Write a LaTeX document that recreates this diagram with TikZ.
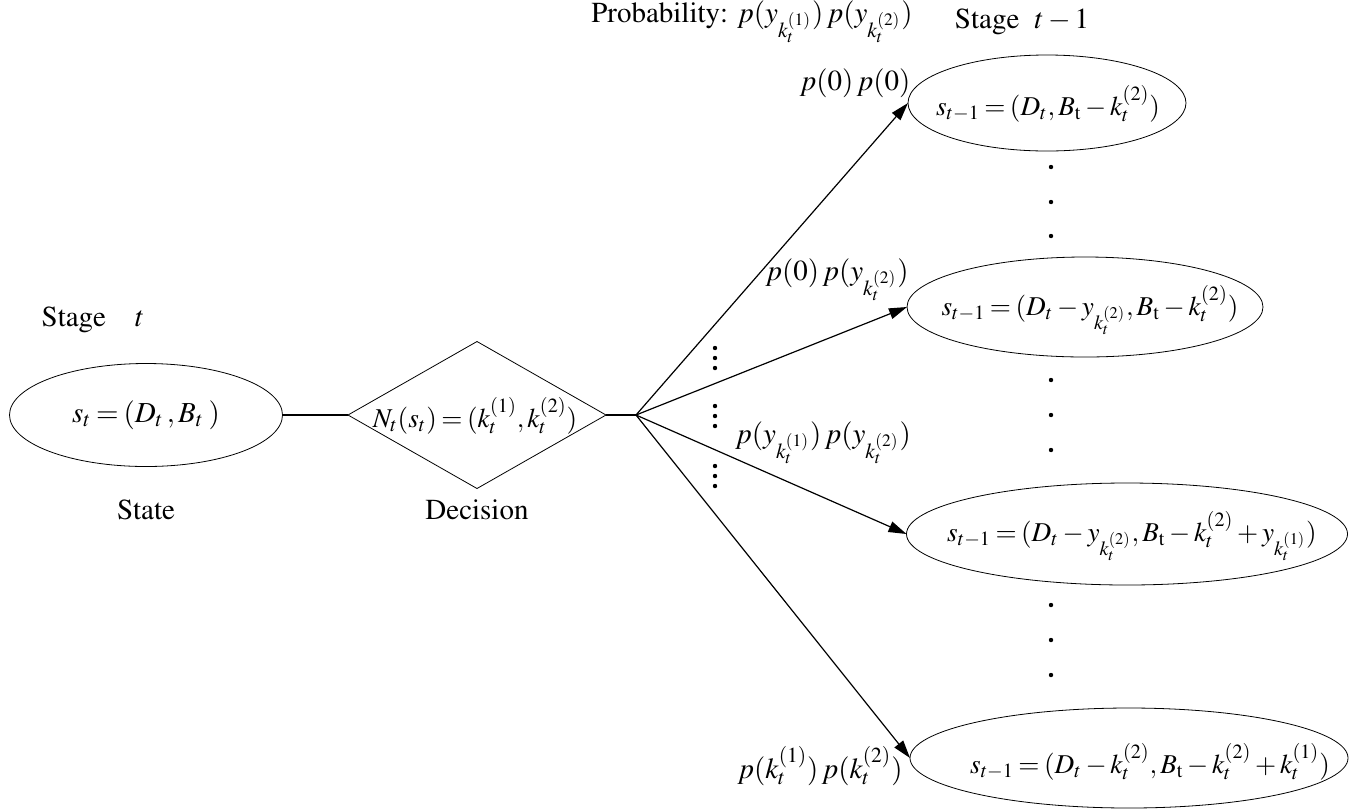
\documentclass[tikz,border=0pt]{standalone}
\usepackage[T1]{fontenc}
\usepackage{mathptmx}
\usetikzlibrary{shapes.geometric,arrows.meta}
\newcommand\tightmathsp{\thickmuskip=3mu plus 1mu\relax\medmuskip=2.5mu plus 1mu\relax}
\tikzset{
  lbl/.style={inner sep=0pt, font=\rmfamily\fontsize{14.5}{17}\selectfont\tightmathsp},
  elltxt/.style={inner sep=0pt, font=\rmfamily\fontsize{13.6}{16}\selectfont\tightmathsp},
  stateell/.style={ellipse, draw, inner sep=0pt, outer sep=0pt},
  decdia/.style={diamond, draw, inner sep=0pt, outer sep=0pt},
  conn/.style={line width=0.6pt},
  arr/.style={line width=0.6pt, -{Triangle[length=9pt,width=5.5pt]}},
  dotmark/.style={fill=black}
}
\begin{document}
\begin{tikzpicture}[x=0.5pt,y=-0.5pt]
\useasboundingbox (0,0) rectangle (1359,810);
% shapes
\node[stateell, minimum width=136.5pt, minimum height=51.5pt] (e0) at (146,415) {};
\node[decdia, minimum width=129pt, minimum height=73.5pt] (dec) at (477,415) {};
\node[stateell, minimum width=139pt, minimum height=48pt] (e1) at (1047,103) {};
\node[stateell, minimum width=178pt, minimum height=50pt] (e2) at (1085,307) {};
\node[stateell, minimum width=220.5pt, minimum height=51pt] (e3) at (1127,534) {};
\node[stateell, minimum width=219pt, minimum height=50pt] (e4) at (1129,758) {};
\coordinate (fan) at (636,415);
% texts
\node[lbl] (t0) at (146,415) {$s_t = (D_t\,, B_t\;)$};
\node[elltxt] (tdec) at (475,416) {$N_t(s_t) = (k_t^{(1)}, k_t^{(2)})$};
\node[elltxt] (t1) at (1048,104) {$s_{t-1} = (D_t, B_\mathrm{t} - k_t^{(2)})$};
\node[elltxt] (t2) at (1090,310) {$s_{t-1} = (D_t - y_{k_t^{(2)}}, B_\mathrm{t} - k_t^{(2)})$};
\node[elltxt] (t3) at (1132,536) {$s_{t-1} = (D_t - y_{k_t^{(2)}}, B_\mathrm{t} - k_t^{(2)} + y_{k_t^{(1)}})$};
\node[elltxt] (t4) at (1150,762) {$s_{t-1} = (D_t - k_t^{(2)}, B_\mathrm{t} - k_t^{(2)} + k_t^{(1)})$};
\node[lbl] (stage) at (93,320) {Stage\quad $t$};
\node[lbl] (state) at (146,510) {State};
\node[lbl] (decis) at (477,510) {Decision};
\node[lbl] (prob) at (752,22) {Probability: $p(y_{k_t^{(1)}})\,p(y_{k_t^{(2)}})$};
\node[lbl] (stage1) at (1022,22) {Stage\; $t-1$};
\node[lbl] (p1) at (855,83) {$p(0)\,p(0)$};
\node[lbl] (p2) at (837,280) {$p(0)\,p(y_{k_t^{(2)}})$};
\node[lbl] (p3) at (823,443) {$p(y_{k_t^{(1)}})\,p(y_{k_t^{(2)}})$};
\node[lbl] (p4) at (820,766) {$p(k_t^{(1)})\,p(k_t^{(2)})$};
% connectors
\draw[conn] (e0.east) -- (dec.west);
\draw[conn] (dec.east) -- (fan);
\draw[arr] (fan) -- (e1.west);
\draw[arr] (fan) -- (e2.west);
\draw[arr] (fan) -- (e3.west);
\draw[arr] (fan) -- (e4.west);
% dots
\foreach \y in {348,358,368,406,416,426,466,476,486}
  \fill[dotmark] (715,\y) circle[radius=1.1pt];
\foreach \y in {167,202,236,380,415,450,605,640,675}
  \fill[dotmark] (1051,\y) circle[radius=1.1pt];
\end{tikzpicture}
\end{document}
